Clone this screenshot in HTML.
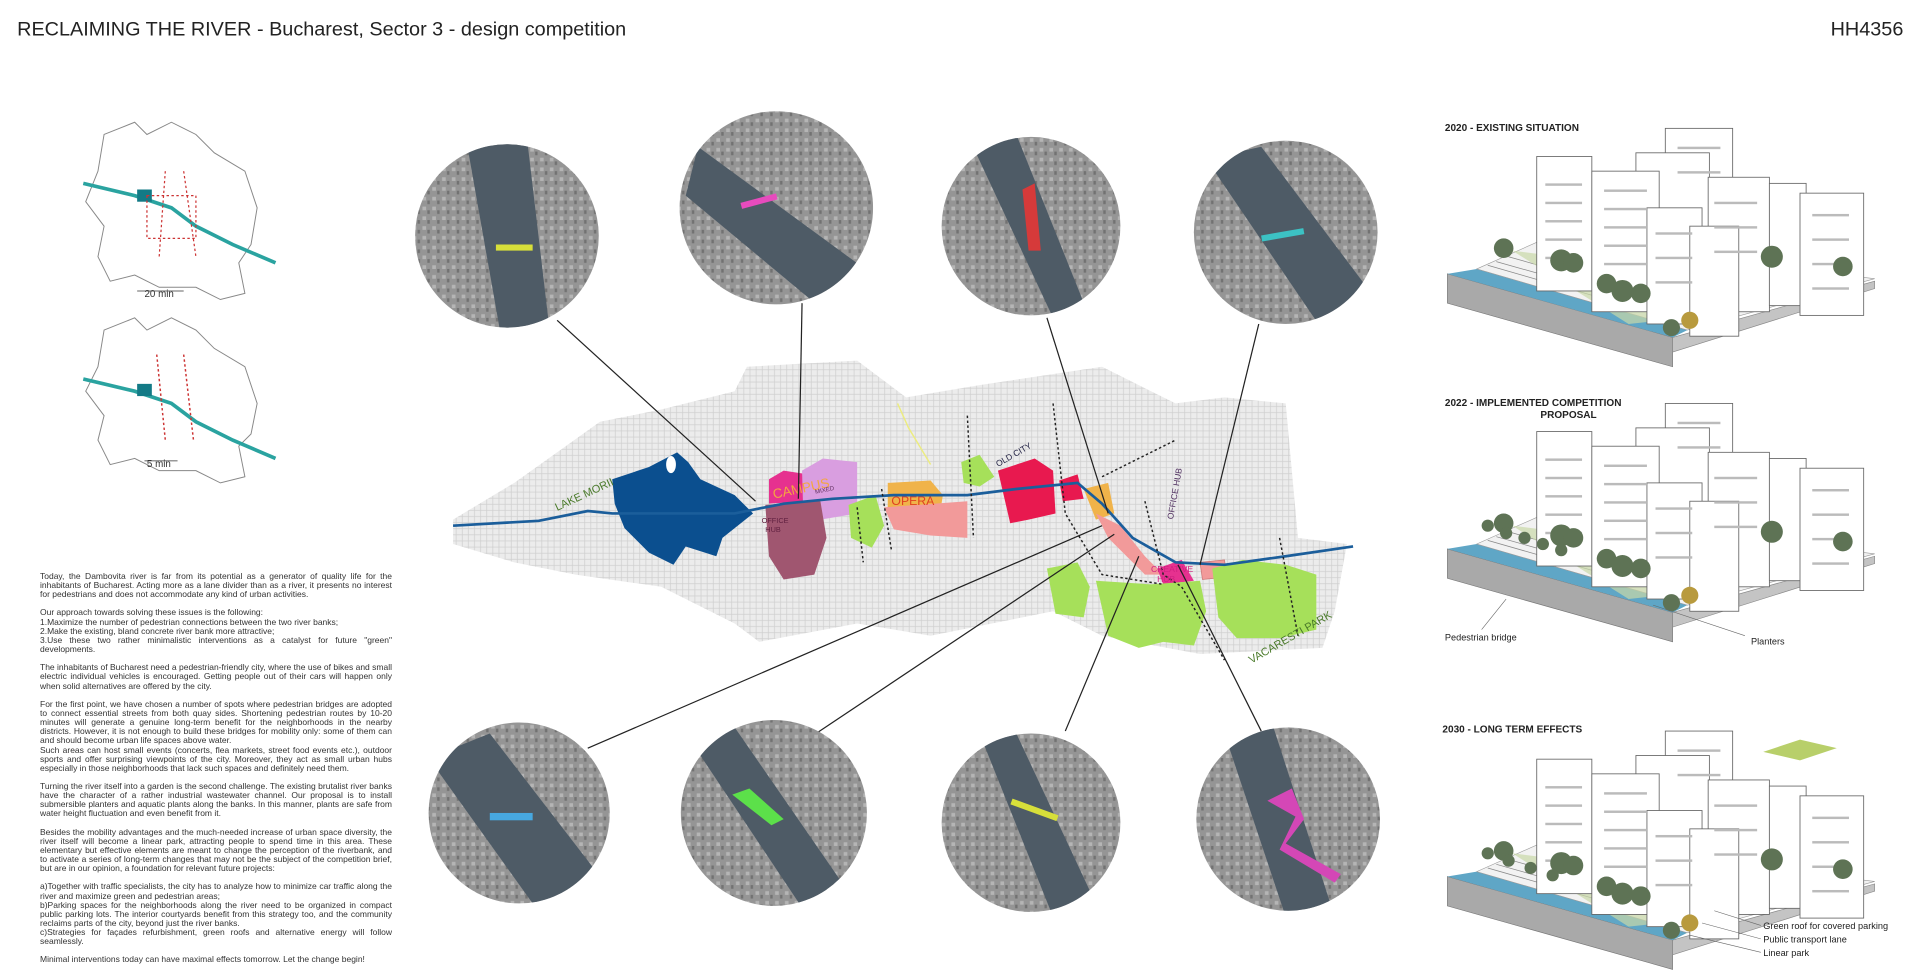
<!DOCTYPE html>
<html><head><meta charset="utf-8"><style>
html,body{margin:0;padding:0;background:#fff;}
body{width:1920px;height:978px;position:relative;overflow:hidden;font-family:"Liberation Sans",sans-serif;}
#txt{position:absolute;left:40px;top:572px;width:352px;font-size:8.5px;line-height:9.15px;color:#333;text-align:justify;}
#txt p{margin:0 0 9px 0;}
svg{position:absolute;left:0;top:0;}
</style></head><body>
<svg width="1920" height="978" viewBox="0 0 1568 800" preserveAspectRatio="none" xmlns="http://www.w3.org/2000/svg">
<defs>
<pattern id="tex" width="5" height="5" patternUnits="userSpaceOnUse">
<rect width="5" height="5" fill="#ececec"/><path d="M0 2.5h5M2.5 0v5" stroke="#cfcfcf" stroke-width="0.6"/></pattern>
<pattern id="aer" width="8" height="8" patternUnits="userSpaceOnUse">
<rect width="8" height="8" fill="#959595"/><rect x="1" y="1" width="3" height="3" fill="#b5b5b5"/><rect x="5" y="4" width="2" height="3" fill="#727272"/></pattern>
<clipPath id="k1"><circle cx="414" cy="193" r="75"/></clipPath>
<clipPath id="k2"><circle cx="634" cy="170" r="79"/></clipPath>
<clipPath id="k3"><circle cx="842" cy="185" r="73"/></clipPath>
<clipPath id="k4"><circle cx="1050" cy="190" r="75"/></clipPath>
<clipPath id="k5"><circle cx="424" cy="665" r="74"/></clipPath>
<clipPath id="k6"><circle cx="632" cy="665" r="76"/></clipPath>
<clipPath id="k7"><circle cx="842" cy="673" r="73"/></clipPath>
<clipPath id="k8"><circle cx="1052" cy="670" r="75"/></clipPath>
<g id="bld">
<polygon points="1182,224 1366,276 1366,300 1182,248" fill="#a9a9a9" stroke="#777" stroke-width="0.5"/>
<polygon points="1366,276 1531,230 1531,236 1366,288" fill="#c4c4c4" stroke="#888" stroke-width="0.5"/>
<polygon points="1182,224 1206,220 1378,270 1366,276" fill="#5fa6c6"/>
<polygon points="1206,220 1260,196 1531,228 1378,270" fill="#f2f2f2" stroke="#999" stroke-width="0.5"/>
<path d="M1215,217 L1385,266 M1222,214 L1392,262 M1232,210 L1400,258" stroke="#888" stroke-width="0.6"/>
<polygon points="1235,205 1290,212 1380,250 1395,258 1330,265" fill="#c9d8a8" opacity="0.7"/>
<g fill="#fff" stroke="#666" stroke-width="0.7">
<rect x="1360" y="105" width="55" height="85"/>
<rect x="1336" y="125" width="60" height="90"/>
<rect x="1255" y="128" width="45" height="110"/>
<rect x="1300" y="140" width="55" height="115"/>
<rect x="1395" y="145" width="50" height="110"/>
<rect x="1445" y="150" width="30" height="100"/>
<rect x="1470" y="158" width="52" height="100"/>
<rect x="1345" y="170" width="45" height="95"/>
<rect x="1380" y="185" width="40" height="90"/>
</g>
<g fill="#bbb"><rect x="1262" y="150" width="30" height="2"/><rect x="1262" y="165" width="30" height="2"/><rect x="1262" y="180" width="30" height="2"/><rect x="1262" y="195" width="30" height="2"/><rect x="1262" y="210" width="30" height="2"/><rect x="1310" y="155" width="35" height="2"/><rect x="1310" y="170" width="35" height="2"/><rect x="1310" y="185" width="35" height="2"/><rect x="1310" y="200" width="35" height="2"/><rect x="1310" y="215" width="35" height="2"/><rect x="1480" y="175" width="30" height="2"/><rect x="1480" y="195" width="30" height="2"/><rect x="1480" y="215" width="30" height="2"/><rect x="1480" y="235" width="30" height="2"/><rect x="1400" y="165" width="35" height="2"/><rect x="1400" y="185" width="35" height="2"/><rect x="1400" y="205" width="35" height="2"/><rect x="1352" y="190" width="30" height="2"/><rect x="1352" y="210" width="30" height="2"/><rect x="1352" y="230" width="30" height="2"/><rect x="1370" y="120" width="35" height="2"/><rect x="1370" y="140" width="35" height="2"/></g>
<g fill="#5e7355"><circle cx="1228" cy="203" r="8"/><circle cx="1275" cy="213" r="9"/><circle cx="1285" cy="215" r="8"/><circle cx="1312" cy="232" r="8"/><circle cx="1325" cy="238" r="9"/><circle cx="1340" cy="240" r="8"/><circle cx="1365" cy="268" r="7"/><circle cx="1447" cy="210" r="9"/><circle cx="1505" cy="218" r="8"/></g>
<circle cx="1380" cy="262" r="7" fill="#b89a3e"/>
</g>
</defs>

<text x="14" y="29" font-family="Liberation Sans, sans-serif" font-size="16.2" fill="#222">RECLAIMING THE RIVER - Bucharest, Sector 3 - design competition</text>
<text x="1495" y="29" font-family="Liberation Sans, sans-serif" font-size="16.2" fill="#222">HH4356</text>

<g fill="#fff" stroke="#888" stroke-width="0.8">
<polygon points="85,110 110,100 120,110 140,100 160,110 175,125 200,140 210,170 205,200 195,215 200,240 180,245 160,235 130,235 110,225 90,230 80,210 85,185 70,165 80,140"/>
<polygon points="85,270 110,260 120,270 140,260 160,270 175,285 200,300 210,330 205,355 195,365 200,390 180,395 160,385 130,385 110,375 90,380 80,360 85,340 70,320 80,300"/>
</g>
<path d="M68,150 L110,160 L140,170 L160,185 L190,200 L225,215" stroke="#2aa3a0" stroke-width="3" fill="none"/>
<path d="M68,310 L110,320 L140,330 L160,345 L190,360 L225,375" stroke="#2aa3a0" stroke-width="3" fill="none"/>
<rect x="112" y="155" width="12" height="10" fill="#137a86"/><rect x="112" y="314" width="12" height="10" fill="#137a86"/>
<rect x="120" y="160" width="40" height="35" fill="none" stroke="#c33" stroke-dasharray="2,2"/>
<path d="M135,140 L130,210 M150,140 L160,210" stroke="#c33" stroke-dasharray="2,2"/>
<path d="M128,290 L135,360 M150,290 L158,360" stroke="#c33" stroke-dasharray="2,2" stroke-width="1.2"/>
<text x="118" y="243" font-size="8" fill="#333" font-family="Liberation Sans, sans-serif">20 min</text>
<text x="120" y="382" font-size="8" fill="#333" font-family="Liberation Sans, sans-serif">5 min</text>
<path d="M112,238 H150 M118,377 H145" stroke="#333" stroke-width="0.6"/>

<polygon points="370,425 420,395 490,345 540,335 600,320 610,300 700,295 740,325 800,315 900,300 960,330 1000,325 1050,330 1060,440 1100,445 1090,500 1080,530 980,535 900,520 860,500 760,520 700,510 620,525 600,510 540,480 470,470 420,460 370,445" fill="url(#tex)"/>
<polygon points="500,392 530,382 553,370 562,378 572,392 600,405 615,420 590,440 585,455 560,447 550,462 530,452 510,432 502,412" fill="#0b4f8f"/>
<ellipse cx="548" cy="380" rx="4" ry="7" fill="#fff"/>
<polygon points="628,392 640,385 660,388 660,410 628,412" fill="#e6318f"/>
<polygon points="655,385 672,375 700,378 700,420 670,425 656,420" fill="#d99ee0"/>
<polygon points="625,413 670,410 675,440 665,470 640,474 628,455" fill="#a05670"/>
<polygon points="693,413 715,405 722,430 712,448 695,440" fill="#a6e05a"/>
<polygon points="725,395 760,393 770,405 768,418 725,418" fill="#f0b34a"/>
<polygon points="722,415 790,410 790,440 760,438 730,433" fill="#f29a9a"/>
<polygon points="785,378 800,372 812,390 800,398 787,395" fill="#a6e05a"/>
<polygon points="815,385 845,375 860,385 862,420 840,425 825,428" fill="#e8194f"/>
<polygon points="865,393 880,388 885,408 868,410" fill="#e8194f"/>
<polygon points="885,400 905,395 910,420 895,425" fill="#f0b34a"/>
<polygon points="895,420 915,430 935,455 950,470 935,470 905,440" fill="#f29a9a"/>
<polygon points="945,465 965,458 975,475 950,478" fill="#e6318f"/>
<polygon points="980,460 1000,458 1002,472 982,474" fill="#f29a9a" stroke="#c77" stroke-width="0.6"/>
<polygon points="855,465 880,460 890,480 885,505 862,502" fill="#a6e05a"/>
<polygon points="895,475 940,478 980,475 985,500 975,528 950,525 930,530 905,520" fill="#a6e05a"/>
<polygon points="990,465 1015,458 1050,462 1075,470 1075,515 1045,522 1010,522 995,505" fill="#a6e05a"/>
<path d="M370,430 L440,426 L480,418 L500,420 L600,420 L640,412 L680,408 L730,405 L790,405 L830,400 L880,395 L900,412 L925,440 L960,460 L1000,462 L1050,455 L1105,447" stroke="#1b5e9b" stroke-width="2.2" fill="none"/>
<path d="M733,330 L742,350 L760,380" stroke="#ecec80" stroke-width="1.2" fill="none"/>
<g stroke="#222" stroke-width="1.2" stroke-dasharray="2,2" fill="none">
<path d="M700,415 L705,460 M720,400 L728,450 M790,340 L795,440 M860,330 L870,420 L900,470 L950,478 M900,390 L920,380 L960,360 M935,410 L950,470 L965,480 L1000,540 M1045,440 L1060,520"/>
</g>
<g font-family="Liberation Sans, sans-serif">
<text x="455" y="418" font-size="9" fill="#4a7a2a" transform="rotate(-25 455 418)">LAKE MORII</text>
<text x="632" y="408" font-size="11" fill="#f4a640" transform="rotate(-12 632 408)">CAMPUS</text>
<text x="666" y="404" font-size="5" fill="#603060" transform="rotate(-12 666 404)">MIXED</text>
<text x="728" y="413" font-size="10" fill="#e04020">OPERA</text>
<text x="622" y="428" font-size="6" fill="#602040">OFFICE</text><text x="625" y="435" font-size="6" fill="#602040">HUB</text>
<text x="815" y="382" font-size="7" fill="#224" transform="rotate(-30 815 382)">OLD CITY</text>
<text x="958" y="425" font-size="7" fill="#503060" transform="rotate(-80 958 425)">OFFICE HUB</text>
<text x="940" y="468" font-size="7" fill="#d02080">CREATIVE</text><text x="945" y="476" font-size="7" fill="#d02080">HUB</text>
<text x="1022" y="543" font-size="9" fill="#4a7a2a" transform="rotate(-30 1022 543)">VACARESTI PARK</text>
</g>

<g stroke="#222" stroke-width="1" fill="none">
<path d="M455,262 L617,410"/><path d="M655,248 L652,408"/><path d="M855,260 L905,420"/><path d="M1028,265 L980,462"/>
<path d="M480,612 L900,430"/><path d="M662,603 L910,437"/><path d="M870,598 L930,455"/><path d="M1030,598 L962,462"/>
</g>

<g>
<circle cx="414" cy="193" r="75" fill="url(#aer)"/><g clip-path="url(#k1)"><path d="M380,110 L430,110 L450,280 L410,280 Z" fill="#4e5b66"/><rect x="405" y="200" width="30" height="5" fill="#d7df3a"/></g>
<circle cx="634" cy="170" r="79" fill="url(#aer)"/><g clip-path="url(#k2)"><path d="M570,120 L720,230 L680,260 L560,160 Z" fill="#4e5b66"/><rect x="605" y="162" width="30" height="5" fill="#e74bbd" transform="rotate(-15 620 165)"/></g>
<circle cx="842" cy="185" r="73" fill="url(#aer)"/><g clip-path="url(#k3)"><path d="M790,110 L830,110 L890,260 L860,260 Z" fill="#4e5b66"/><path d="M835,155 L845,150 L850,205 L840,205 Z" fill="#d63a3a"/></g>
<circle cx="1050" cy="190" r="75" fill="url(#aer)"/><g clip-path="url(#k4)"><path d="M985,130 L1030,120 L1120,240 L1080,270 Z" fill="#4e5b66"/><rect x="1030" y="190" width="35" height="5" fill="#3cc2c4" transform="rotate(-10 1045 192)"/></g>
<circle cx="424" cy="665" r="74" fill="url(#aer)"/><g clip-path="url(#k5)"><path d="M350,620 L400,600 L500,730 L450,760 Z" fill="#4e5b66"/><rect x="400" y="665" width="35" height="6" fill="#47a8e0"/></g>
<circle cx="632" cy="665" r="76" fill="url(#aer)"/><g clip-path="url(#k6)"><path d="M560,600 L600,595 L700,740 L660,750 Z" fill="#4e5b66"/><path d="M598,650 L612,645 L640,670 L630,675 Z" fill="#5ce04a"/></g>
<circle cx="842" cy="673" r="73" fill="url(#aer)"/><g clip-path="url(#k7)"><path d="M800,600 L830,600 L900,750 L860,750 Z" fill="#4e5b66"/><rect x="825" y="660" width="40" height="5" fill="#d7df3a" transform="rotate(20 845 662)"/></g>
<circle cx="1052" cy="670" r="75" fill="url(#aer)"/><g clip-path="url(#k8)"><path d="M1000,600 L1040,595 L1090,750 L1050,750 Z" fill="#4e5b66"/><path d="M1035,655 L1055,645 L1065,670 L1050,690 L1095,715 L1090,722 L1045,695 L1058,668 Z" fill="#d447b6"/></g>
</g>

<g font-family="Liberation Sans, sans-serif" font-weight="bold" font-size="8.2" fill="#222">
<text x="1180" y="107">2020 - EXISTING SITUATION</text>
<text x="1180" y="332">2022 - IMPLEMENTED COMPETITION</text>
<text x="1258" y="342">PROPOSAL</text>
<text x="1178" y="599">2030 - LONG TERM EFFECTS</text>
</g>
<use href="#bld"/>
<use href="#bld" transform="translate(0,225)"/>
<use href="#bld" transform="translate(0,493)"/>
<g fill="#5e7355"><circle cx="1215" cy="430" r="5"/><circle cx="1230" cy="436" r="5"/><circle cx="1245" cy="440" r="5"/><circle cx="1260" cy="445" r="5"/><circle cx="1275" cy="450" r="5"/><circle cx="1215" cy="698" r="5"/><circle cx="1232" cy="704" r="5"/><circle cx="1250" cy="710" r="5"/><circle cx="1268" cy="716" r="5"/></g>
<polygon points="1440,615 1470,605 1500,612 1470,622" fill="#b8cf6a"/>
<g font-family="Liberation Sans, sans-serif" font-size="7.5" fill="#222">
<text x="1180" y="524">Pedestrian bridge</text>
<text x="1430" y="527">Planters</text>
<text x="1440" y="760">Green roof for covered parking</text>
<text x="1440" y="771">Public transport lane</text>
<text x="1440" y="782">Linear park</text>
</g>
<path d="M1230,490 L1210,515 M1350,495 L1425,520 M1400,745 L1438,757 M1390,755 L1438,768 M1380,765 L1438,779" stroke="#666" stroke-width="0.5"/>
</svg>

<div id="txt">
<p>Today, the Dambovita river is far from its potential as a generator of quality life for the inhabitants of Bucharest. Acting more as a lane divider than as a river, it presents no interest for pedestrians and does not accommodate any kind of urban activities.</p>
<p>Our approach towards solving these issues is the following:<br>1.Maximize the number of pedestrian connections between the two river banks;<br>2.Make the existing, bland concrete river bank more attractive;<br>3.Use these two rather minimalistic interventions as a catalyst for future "green" developments.</p>
<p>The inhabitants of Bucharest need a pedestrian-friendly city, where the use of bikes and small electric individual vehicles is encouraged. Getting people out of their cars will happen only when solid alternatives are offered by the city.</p>
<p>For the first point, we have chosen a number of spots where pedestrian bridges are adopted to connect essential streets from both quay sides. Shortening pedestrian routes by 10-20 minutes will generate a genuine long-term benefit for the neighborhoods in the nearby districts. However, it is not enough to build these bridges for mobility only: some of them can and should become urban life spaces above water.<br>Such areas can host small events (concerts, flea markets, street food events etc.), outdoor sports and offer surprising viewpoints of the city. Moreover, they act as small urban hubs especially in those neighborhoods that lack such spaces and definitely need them.</p>
<p>Turning the river itself into a garden is the second challenge. The existing brutalist river banks have the character of a rather industrial wastewater channel. Our proposal is to install submersible planters and aquatic plants along the banks. In this manner, plants are safe from water height fluctuation and even benefit from it.</p>
<p>Besides the mobility advantages and the much-needed increase of urban space diversity, the river itself will become a linear park, attracting people to spend time in this area. These elementary but effective elements are meant to change the perception of the riverbank, and to activate a series of long-term changes that may not be the subject of the competition brief, but are in our opinion, a foundation for relevant future projects:</p>
<p>a)Together with traffic specialists, the city has to analyze how to minimize car traffic along the river and maximize green and pedestrian areas;<br>b)Parking spaces for the neighborhoods along the river need to be organized in compact public parking lots. The interior courtyards benefit from this strategy too, and the community reclaims parts of the city, beyond just the river banks.<br>c)Strategies for façades refurbishment, green roofs and alternative energy will follow seamlessly.</p>
<p>Minimal interventions today can have maximal effects tomorrow. Let the change begin!</p>
</div>
</body></html>
